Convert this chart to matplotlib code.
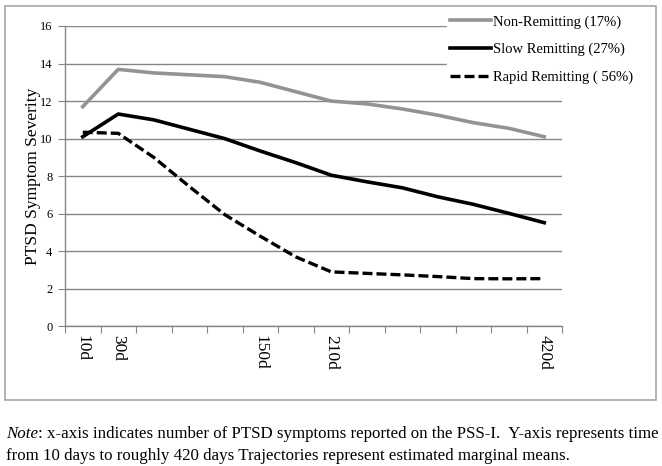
import numpy as np
import matplotlib.pyplot as plt
from matplotlib.patches import Rectangle

plt.rcParams['font.family'] = ['Liberation Serif', 'DejaVu Serif']

# time points (category axis, only some labelled)
timeLabels = ['10d', '30d', '', '', '', '150d', '', '210d', '', '', '', '', '', '420d']

nonRemitting = [11.7, 13.69, 13.5, 13.4, 13.3, 13.0, 12.5, 12.0, 11.85, 11.58, 11.25, 10.85, 10.55, 10.1]
slowRemitting = [10.1, 11.31, 11.0, 10.5, 10.0, 9.34, 8.72, 8.05, 7.7, 7.38, 6.9, 6.5, 6.02, 5.52]
rapidRemitting = [10.34, 10.28, 9.0, 7.45, 5.95, 4.8, 3.7, 2.9, 2.82, 2.74, 2.65, 2.54, 2.53, 2.54]

seriesNames = ['Non-Remitting (17%)', 'Slow Remitting (27%)', 'Rapid Remitting ( 56%)']

W, H = 662, 466
fig = plt.figure(figsize=(W/100, H/100), dpi=100)

# chart border like the excel chart area
fig.patches.append(Rectangle((5/W, 66/H), 651/W, 394/H, transform=fig.transFigure,
                             fill=False, edgecolor='#a6a6a6', linewidth=1.2))

ax = fig.add_axes([65/W, 139.7/H, 497/W, 300.3/H])

x = np.arange(len(timeLabels))
ax.plot(x, nonRemitting, color='#939393', linewidth=2.6, label=seriesNames[0])
ax.plot(x, slowRemitting, color='black', linewidth=2.6, label=seriesNames[1])
ax.plot(x, rapidRemitting, color='black', linewidth=2.4, linestyle=(0, (3, 1.2)), label=seriesNames[2])

ax.set_xlim(-0.5, len(timeLabels) - 0.5)
ax.set_ylim(0, 16)
ax.set_yticks(np.arange(0, 17, 2))
ax.grid(axis='y', color='#868686', linewidth=1.0)
ax.set_axisbelow(True)

# boundaries get tick marks, centres get labels
ax.set_xticks(np.arange(-0.5, len(timeLabels), 1.0))
ax.set_xticklabels([])
ax.set_xticks(x, minor=True)
ax.set_xticklabels(timeLabels, minor=True, rotation=-90, fontsize=12.5)
ax.tick_params(axis='x', which='minor', length=0, pad=6)
ax.tick_params(axis='x', which='major', length=5, color='#868686')
ax.tick_params(axis='y', length=5, color='#868686', labelsize=9, pad=4)

for s in ['top', 'right']:
  ax.spines[s].set_visible(False)
for s in ['left', 'bottom']:
  ax.spines[s].set_color('#868686')
  ax.spines[s].set_linewidth(1.0)

ax.set_ylabel('PTSD Symptom Severity', fontsize=12.5, va='center')
ax.yaxis.set_label_coords(-32/497, 0.5)

leg = ax.legend(loc='upper left', bbox_to_anchor=(440/W, 1 - 5/H), bbox_transform=fig.transFigure,
                frameon=True, fancybox=False, fontsize=10.5, handlelength=2.8, handletextpad=0.1,
                labelspacing=0.98, borderpad=0.2)
leg.get_frame().set_edgecolor('white')
leg.get_frame().set_facecolor('white')
leg.get_frame().set_alpha(1)

# note below the chart, "Note" in italics
noteSize = 12.15
noteWord = fig.text(6/W, 1 - 434/H, 'Note', fontsize=noteSize, va='center', ha='left', style='italic')
fig.canvas.draw()
bb = noteWord.get_window_extent(fig.canvas.get_renderer())
fig.text(bb.x1/W, 1 - 434/H,
         ': x-axis indicates number of PTSD symptoms reported on the PSS-I.  Y-axis represents time',
         fontsize=noteSize, va='center', ha='left')
fig.text(6/W, 1 - 456/H,
         'from 10 days to roughly 420 days Trajectories represent estimated marginal means.',
         fontsize=noteSize, va='center', ha='left')

fig.savefig('out.png', dpi=100)
